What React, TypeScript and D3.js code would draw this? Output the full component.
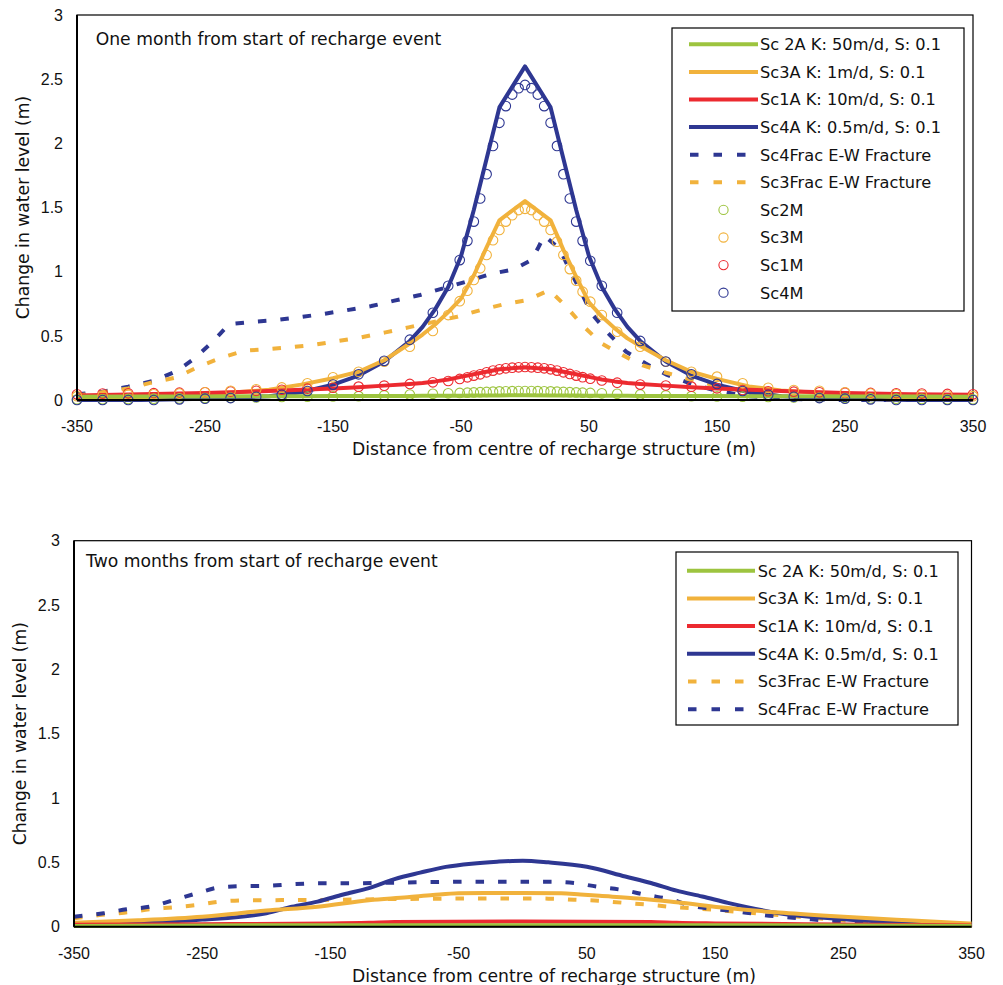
import React from 'react';
import * as d3 from 'd3';

// ---------- shared axes ----------
const xTicks = [-350, -250, -150, -50, 50, 150, 250, 350];
const yTicks = [0, 0.5, 1, 1.5, 2, 2.5, 3];

// ---------- top chart (one month) ----------
const topModelX = [-350, -330, -310, -290, -270, -250, -230, -210, -190, -170, -150, -130, -110, -90, -72, -60, -51, -45, -40, -35, -30, -25, -20, -15, -10, -5, 0, 5, 10, 15, 20, 25, 30, 35, 40, 45, 51, 60, 72, 90, 110, 130, 150, 170, 190, 210, 230, 250, 270, 290, 310, 330, 350];
const topSc4M = [0, 0, 0, 0, 0.005, 0.01, 0.015, 0.025, 0.04, 0.07, 0.12, 0.2, 0.305, 0.47, 0.68, 0.89, 1.09, 1.24, 1.39, 1.57, 1.76, 1.98, 2.16, 2.29, 2.38, 2.43, 2.455, 2.43, 2.38, 2.29, 2.16, 1.98, 1.76, 1.57, 1.39, 1.24, 1.085, 0.89, 0.68, 0.46, 0.3, 0.2, 0.125, 0.07, 0.04, 0.025, 0.015, 0.01, 0.005, 0, 0, 0, 0];
const topSc3M = [0.03, 0.035, 0.04, 0.045, 0.05, 0.06, 0.072, 0.083, 0.098, 0.13, 0.177, 0.22, 0.298, 0.415, 0.538, 0.662, 0.77, 0.852, 0.935, 1.026, 1.13, 1.245, 1.325, 1.39, 1.44, 1.48, 1.49, 1.48, 1.44, 1.39, 1.325, 1.234, 1.13, 1.02, 0.93, 0.844, 0.766, 0.662, 0.532, 0.415, 0.298, 0.22, 0.182, 0.13, 0.095, 0.078, 0.072, 0.06, 0.05, 0.045, 0.04, 0.035, 0.03];
const topSc1M = [0.044, 0.05, 0.052, 0.053, 0.057, 0.06, 0.066, 0.072, 0.08, 0.088, 0.096, 0.104, 0.112, 0.125, 0.138, 0.148, 0.164, 0.177, 0.19, 0.2, 0.216, 0.229, 0.239, 0.247, 0.252, 0.255, 0.257, 0.255, 0.252, 0.247, 0.239, 0.229, 0.216, 0.203, 0.19, 0.178, 0.166, 0.152, 0.135, 0.12, 0.113, 0.104, 0.091, 0.078, 0.068, 0.065, 0.06, 0.057, 0.055, 0.052, 0.05, 0.047, 0.044];
const topSc2M = [0.005, 0.005, 0.008, 0.01, 0.012, 0.015, 0.018, 0.02, 0.024, 0.026, 0.028, 0.03, 0.036, 0.042, 0.048, 0.052, 0.055, 0.057, 0.059, 0.061, 0.063, 0.065, 0.067, 0.068, 0.069, 0.07, 0.07, 0.07, 0.069, 0.068, 0.067, 0.065, 0.063, 0.061, 0.059, 0.057, 0.055, 0.052, 0.048, 0.042, 0.036, 0.03, 0.028, 0.026, 0.024, 0.02, 0.018, 0.015, 0.012, 0.01, 0.008, 0.005, 0.005];

const topLineX = [-350, -300, -250, -200, -175, -150, -130, -110, -90, -80, -70, -60, -50, -40, -30, -20, 0, 20, 30, 40, 50, 60, 70, 80, 90, 110, 130, 150, 175, 200, 250, 300, 350];
const topSc4A = [0, 0, 0.01, 0.03, 0.06, 0.12, 0.19, 0.3, 0.46, 0.57, 0.71, 0.88, 1.12, 1.48, 1.88, 2.28, 2.6, 2.28, 1.88, 1.48, 1.12, 0.88, 0.71, 0.57, 0.46, 0.3, 0.19, 0.12, 0.06, 0.03, 0.01, 0, 0];
const topSc3A = [0.01, 0.02, 0.04, 0.08, 0.12, 0.17, 0.22, 0.31, 0.44, 0.51, 0.59, 0.685, 0.79, 0.97, 1.19, 1.4, 1.55, 1.4, 1.17, 0.96, 0.76, 0.65, 0.56, 0.48, 0.42, 0.31, 0.22, 0.165, 0.105, 0.075, 0.04, 0.02, 0.01];
const topSc1A = [0.035, 0.045, 0.055, 0.07, 0.08, 0.09, 0.1, 0.112, 0.125, 0.133, 0.145, 0.16, 0.18, 0.2, 0.22, 0.24, 0.255, 0.24, 0.22, 0.2, 0.18, 0.16, 0.145, 0.133, 0.125, 0.112, 0.1, 0.09, 0.08, 0.07, 0.055, 0.045, 0.04];
const topSc2A = [0.025, 0.027, 0.028, 0.03, 0.03, 0.031, 0.031, 0.032, 0.032, 0.033, 0.033, 0.034, 0.034, 0.035, 0.035, 0.036, 0.037, 0.036, 0.035, 0.035, 0.034, 0.034, 0.033, 0.033, 0.032, 0.032, 0.031, 0.031, 0.03, 0.03, 0.028, 0.027, 0.025];

const topSc4FracX = [-350, -330, -310, -290, -272, -258, -244, -231, -212, -194, -176, -158, -139, -120, -102, -82, -64, -46, -27, -9, 5, 10, 15, 27, 35, 43, 52, 65, 79, 94, 111, 129, 150, 175, 200, 250, 300, 350];
const topSc4FracY = [0.045, 0.065, 0.104, 0.15, 0.226, 0.325, 0.454, 0.592, 0.61, 0.623, 0.645, 0.67, 0.7, 0.732, 0.774, 0.818, 0.87, 0.922, 0.982, 1.018, 1.09, 1.18, 1.28, 1.18, 1.013, 0.857, 0.675, 0.52, 0.376, 0.286, 0.195, 0.13, 0.07, 0.03, 0.01, 0, 0, 0];
const topSc3FracX = [-350, -330, -310, -292, -272, -255, -237, -219, -201, -184, -165, -146, -128, -109, -91, -73, -53, -35, -17, 2, 19, 33, 45, 60, 76, 92, 111, 129, 150, 175, 200, 250, 300, 350];
const topSc3FracY = [0.035, 0.06, 0.09, 0.135, 0.177, 0.26, 0.33, 0.384, 0.396, 0.41, 0.43, 0.46, 0.488, 0.527, 0.566, 0.605, 0.649, 0.7, 0.745, 0.779, 0.857, 0.72, 0.58, 0.44, 0.35, 0.27, 0.21, 0.16, 0.11, 0.06, 0.03, 0.01, 0, 0];

// ---------- bottom chart (two months) ----------
const botSc4AX = [-350, -300, -250, -200, -180, -160, -140, -120, -100, -80, -60, -40, -20, 0, 20, 50, 80, 100, 120, 140, 160, 200, 240, 280, 350];
const botSc4AY = [0.02, 0.03, 0.055, 0.105, 0.155, 0.195, 0.25, 0.3, 0.37, 0.42, 0.465, 0.49, 0.505, 0.513, 0.5, 0.466, 0.39, 0.34, 0.28, 0.235, 0.185, 0.105, 0.065, 0.04, 0.02];
const botSc3AX = [-350, -300, -250, -200, -160, -120, -90, -70, -50, -30, 0, 30, 45, 60, 90, 120, 160, 200, 240, 300, 350];
const botSc3AY = [0.03, 0.05, 0.078, 0.125, 0.155, 0.205, 0.228, 0.246, 0.26, 0.262, 0.262, 0.26, 0.25, 0.24, 0.22, 0.19, 0.145, 0.11, 0.083, 0.05, 0.025];
const botSc1AX = [-350, -250, -150, -120, -100, 0, 100, 120, 150, 250, 350];
const botSc1AY = [0.015, 0.02, 0.025, 0.03, 0.037, 0.04, 0.037, 0.03, 0.025, 0.018, 0.01];
const botSc2AX = [-350, -250, 0, 250, 350];
const botSc2AY = [0.005, 0.01, 0.012, 0.01, 0.005];
const botSc4FracX = [-350, -327, -309, -291, -272, -254, -236, -217, -200, -180, -160, -140, -100, -60, -20, 20, 40, 58, 78, 97, 115, 133, 151, 170, 188, 206, 225, 250, 300, 350];
const botSc4FracY = [0.078, 0.104, 0.135, 0.155, 0.207, 0.26, 0.306, 0.316, 0.318, 0.33, 0.337, 0.337, 0.342, 0.348, 0.35, 0.35, 0.34, 0.311, 0.285, 0.246, 0.213, 0.16, 0.135, 0.115, 0.09, 0.073, 0.057, 0.04, 0.02, 0.01];
const botSc3FracX = [-350, -330, -311, -291, -272, -254, -236, -217, -180, -140, -100, -60, 0, 20, 40, 59, 77, 97, 115, 133, 151, 175, 200, 250, 300, 350];
const botSc3FracY = [0.065, 0.09, 0.109, 0.135, 0.151, 0.169, 0.195, 0.205, 0.207, 0.21, 0.215, 0.218, 0.22, 0.218, 0.21, 0.202, 0.187, 0.172, 0.155, 0.143, 0.13, 0.11, 0.09, 0.05, 0.02, 0.01];

const GREEN = '#9dc43f';
const ORANGE = '#f1b23c';
const RED = '#ec2a30';
const BLUE = '#2e3792';

const TEXT_FONT = '"DejaVu Sans", sans-serif';
const TICK_FONT = '"Liberation Sans", Arial, sans-serif';

type Series = { label: string; color: string; xs: number[]; ys: number[]; kind: 'solid' | 'dash' | 'circle' };

const zip = (xs: number[], ys: number[]) => xs.map((v, i) => [v, ys[i]] as [number, number]);

const topDraw: Series[] = [
  { label: 'Sc4Frac E-W Fracture', color: BLUE, xs: topSc4FracX, ys: topSc4FracY, kind: 'dash' },
  { label: 'Sc3Frac E-W Fracture', color: ORANGE, xs: topSc3FracX, ys: topSc3FracY, kind: 'dash' },
  { label: 'Sc4A K: 0.5m/d, S: 0.1', color: BLUE, xs: topLineX, ys: topSc4A, kind: 'solid' },
  { label: 'Sc3A K: 1m/d, S: 0.1', color: ORANGE, xs: topLineX, ys: topSc3A, kind: 'solid' },
  { label: 'Sc1A K: 10m/d, S: 0.1', color: RED, xs: topLineX, ys: topSc1A, kind: 'solid' },
  { label: 'Sc 2A K: 50m/d, S: 0.1', color: GREEN, xs: topLineX, ys: topSc2A, kind: 'solid' },
  { label: 'Sc2M', color: GREEN, xs: topModelX, ys: topSc2M, kind: 'circle' },
  { label: 'Sc1M', color: RED, xs: topModelX, ys: topSc1M, kind: 'circle' },
  { label: 'Sc3M', color: ORANGE, xs: topModelX, ys: topSc3M, kind: 'circle' },
  { label: 'Sc4M', color: BLUE, xs: topModelX, ys: topSc4M, kind: 'circle' },
];
const topLegendOrder = ['Sc 2A K: 50m/d, S: 0.1', 'Sc3A K: 1m/d, S: 0.1', 'Sc1A K: 10m/d, S: 0.1', 'Sc4A K: 0.5m/d, S: 0.1', 'Sc4Frac E-W Fracture', 'Sc3Frac E-W Fracture', 'Sc2M', 'Sc3M', 'Sc1M', 'Sc4M'];

const botDraw: Series[] = [
  { label: 'Sc3Frac E-W Fracture', color: ORANGE, xs: botSc3FracX, ys: botSc3FracY, kind: 'dash' },
  { label: 'Sc4Frac E-W Fracture', color: BLUE, xs: botSc4FracX, ys: botSc4FracY, kind: 'dash' },
  { label: 'Sc4A K: 0.5m/d, S: 0.1', color: BLUE, xs: botSc4AX, ys: botSc4AY, kind: 'solid' },
  { label: 'Sc3A K: 1m/d, S: 0.1', color: ORANGE, xs: botSc3AX, ys: botSc3AY, kind: 'solid' },
  { label: 'Sc1A K: 10m/d, S: 0.1', color: RED, xs: botSc1AX, ys: botSc1AY, kind: 'solid' },
  { label: 'Sc 2A K: 50m/d, S: 0.1', color: GREEN, xs: botSc2AX, ys: botSc2AY, kind: 'solid' },
];
const botLegendOrder = ['Sc 2A K: 50m/d, S: 0.1', 'Sc3A K: 1m/d, S: 0.1', 'Sc1A K: 10m/d, S: 0.1', 'Sc4A K: 0.5m/d, S: 0.1', 'Sc3Frac E-W Fracture', 'Sc4Frac E-W Fracture'];

type Layout = {
  left: number; right: number; top: number; bottom: number;
  title: string; titleX: number; titleY: number;
  legend: { x0: number; y0: number; x1: number; y1: number; rowY: number; rowStep: number; lineX0: number; lineX1: number; textX: number };
  yTitleX: number; smooth: boolean;
};

function Chart({ lay, series, order }: { lay: Layout; series: Series[]; order: string[] }) {
  const x = d3.scaleLinear().domain([-350, 350]).range([lay.left, lay.right]);
  const y = d3.scaleLinear().domain([0, 3]).range([lay.bottom, lay.top]);
  const line = d3.line<[number, number]>().x(d => x(d[0])).y(d => y(d[1]))
    .curve(lay.smooth ? d3.curveMonotoneX : d3.curveLinear);
  const lg = lay.legend;
  const midY = (lay.top + lay.bottom) / 2;
  return (
    <g>
      <rect x={lay.left} y={lay.top} width={lay.right - lay.left} height={lay.bottom - lay.top} fill="white" stroke="#000" strokeWidth={1.2} />
      {series.map((s, i) => {
        const pts = zip(s.xs, s.ys);
        if (s.kind === 'circle') {
          return (
            <g key={i}>
              {pts.map((p, j) => (
                <circle key={j} cx={x(p[0])} cy={y(p[1])} r={4.8} fill="none" stroke={s.color} strokeWidth={1.1} />
              ))}
            </g>
          );
        }
        return (
          <path key={i} d={line(pts) || ''} fill="none" stroke={s.color}
            strokeWidth={4} strokeDasharray={s.kind === 'dash' ? '8.5,14' : undefined}
            strokeLinejoin="round" />
        );
      })}
      <line x1={lay.left} x2={lay.left} y1={lay.top} y2={lay.bottom} stroke="#000" strokeWidth={2} />
      <line x1={lay.left} x2={lay.right} y1={lay.bottom} y2={lay.bottom} stroke="#000" strokeWidth={2} />
      {yTicks.map(t => (
        <text key={'y' + t} x={lay.left - 14} y={y(t)} dy="0.36em" textAnchor="end" fontFamily={TICK_FONT} fontSize={16} fill="#111">{t}</text>
      ))}
      {xTicks.map(t => (
        <text key={'x' + t} x={x(t)} y={lay.bottom + 32} textAnchor="middle" fontFamily={TICK_FONT} fontSize={16} fill="#111">{t}</text>
      ))}
      <text x={554} y={lay.bottom + 55} textAnchor="middle" fontFamily={TEXT_FONT} fontSize={17.2} fill="#111">Distance from centre of recharge structure (m)</text>
      <text transform={`translate(${lay.yTitleX},${midY}) rotate(-90)`} dy="0.36em" textAnchor="middle" fontFamily={TEXT_FONT} fontSize={17.2} fill="#111">Change in water level (m)</text>
      <text x={lay.titleX} y={lay.titleY} fontFamily={TEXT_FONT} fontSize={17.2} fill="#111">{lay.title}</text>
      <rect x={lg.x0} y={lg.y0} width={lg.x1 - lg.x0} height={lg.y1 - lg.y0} fill="white" stroke="#000" strokeWidth={1.2} />
      {order.map((lab, i) => {
        const s = series.find(q => q.label === lab)!;
        const cy = lg.rowY + i * lg.rowStep;
        let sample;
        if (s.kind === 'circle') {
          sample = <circle cx={(lg.lineX0 + lg.lineX1) / 2} cy={cy} r={4.6} fill="none" stroke={s.color} strokeWidth={1.1} />;
        } else if (s.kind === 'dash') {
          sample = <line x1={lg.lineX0 + 1} x2={lg.lineX1} y1={cy} y2={cy} stroke={s.color} strokeWidth={4} strokeDasharray="8.5,15" />;
        } else {
          sample = <line x1={lg.lineX0} x2={lg.lineX1} y1={cy} y2={cy} stroke={s.color} strokeWidth={4} />;
        }
        return (
          <g key={lab}>
            {sample}
            <text x={lg.textX} y={cy} dy="0.36em" fontFamily={TEXT_FONT} fontSize={16.2} fill="#111">{lab}</text>
          </g>
        );
      })}
    </g>
  );
}

const topLayout: Layout = {
  left: 77, right: 973, top: 15, bottom: 400,
  title: 'One month from start of recharge event', titleX: 95.7, titleY: 45,
  legend: { x0: 672, y0: 28, x1: 964, y1: 311, rowY: 44.3, rowStep: 27.6, lineX0: 689, lineX1: 758, textX: 760 },
  yTitleX: 22.5, smooth: false,
};
const botLayout: Layout = {
  left: 74, right: 971.5, top: 540.7, bottom: 926.7,
  title: 'Two months from start of recharge event', titleX: 86, titleY: 567,
  legend: { x0: 676, y0: 552, x1: 958, y1: 725, rowY: 570.7, rowStep: 27.7, lineX0: 687, lineX1: 755, textX: 757.7 },
  yTitleX: 20, smooth: true,
};

export default function App() {
  return (
    <svg width={1003} height={985} style={{ position: 'absolute', left: 0, top: 0, display: 'block', background: 'white' }}>
      <rect x={0} y={0} width={1003} height={985} fill="white" />
      <Chart lay={topLayout} series={topDraw} order={topLegendOrder} />
      <Chart lay={botLayout} series={botDraw} order={botLegendOrder} />
    </svg>
  );
}
